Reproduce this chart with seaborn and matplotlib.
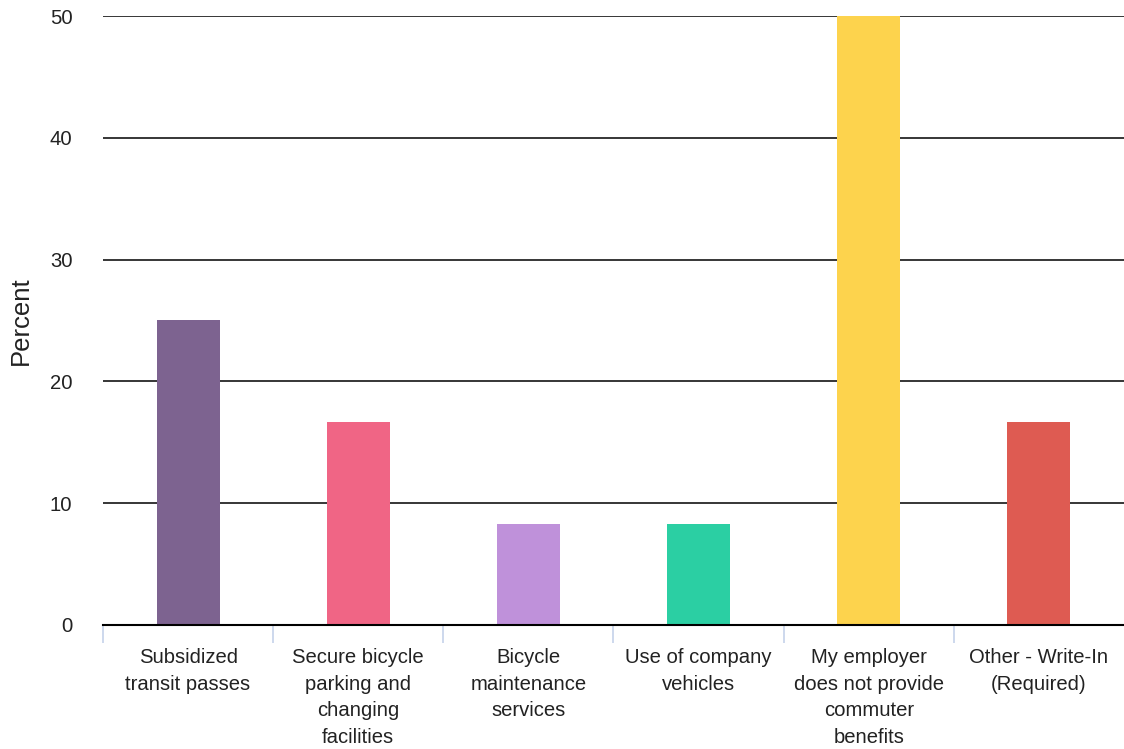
import matplotlib
matplotlib.use("Agg")
import matplotlib.pyplot as plt
from matplotlib.ticker import FixedLocator
import pandas as pd
import seaborn as sns

# chart data
categories = [
    "Subsidized\ntransit passes",
    "Secure bicycle\nparking and\nchanging\nfacilities",
    "Bicycle\nmaintenance\nservices",
    "Use of company\nvehicles",
    "My employer\ndoes not provide\ncommuter\nbenefits",
    "Other - Write-In\n(Required)",
]
percents = [25.0, 16.67, 8.33, 8.33, 50.0, 16.67]
bar_colors = ["#7D6390", "#F06585", "#BF91DA", "#2BCFA3", "#FDD34D", "#DE5B52"]
y_ticks = [0, 10, 20, 30, 40, 50]

df = pd.DataFrame({"category": categories, "percent": percents})

sns.set_theme(style="white")
plt.rcParams["font.family"] = ["Liberation Sans", "DejaVu Sans"]

fig = plt.figure(figsize=(11.24, 7.49), dpi=100)
ax = fig.add_axes([0.0916, 0.1656, 0.9084, 0.813])

sns.barplot(
    data=df, x="category", y="percent", hue="category",
    palette=bar_colors, legend=False, width=0.37, saturation=1,
    linewidth=0, ax=ax, zorder=3,
)

ax.set_ylim(0, 50)
ax.set_xlim(-0.5, len(categories) - 0.5)
ax.set_yticks(y_ticks)
ax.set_yticklabels([str(t) for t in y_ticks], fontsize=14.6, color="#222222")
ax.yaxis.grid(True, color="black", linewidth=1.1, zorder=0)
ax.set_axisbelow(True)

# category separator ticks under the baseline (none at the right edge)
ax.xaxis.set_minor_locator(FixedLocator([i - 0.5 for i in range(len(categories))]))
ax.tick_params(axis="x", which="minor", bottom=True, length=13, width=1.2,
               color="#C5D2EA", direction="out")
ax.tick_params(axis="x", which="major", length=0, pad=16.5, labelsize=14.6,
               labelcolor="#222222")
ax.tick_params(axis="y", length=0, pad=22)
for lbl in ax.get_xticklabels():
    lbl.set_linespacing(1.52)

ax.set_xlabel("")
ax.set_ylabel("Percent", fontsize=18.5, color="#222222", labelpad=12)

for side in ["left", "right", "top"]:
    ax.spines[side].set_visible(False)
ax.spines["bottom"].set_color("black")
ax.spines["bottom"].set_linewidth(1.5)
ax.spines["bottom"].set_zorder(4)

fig.savefig("out.png", dpi=100)
